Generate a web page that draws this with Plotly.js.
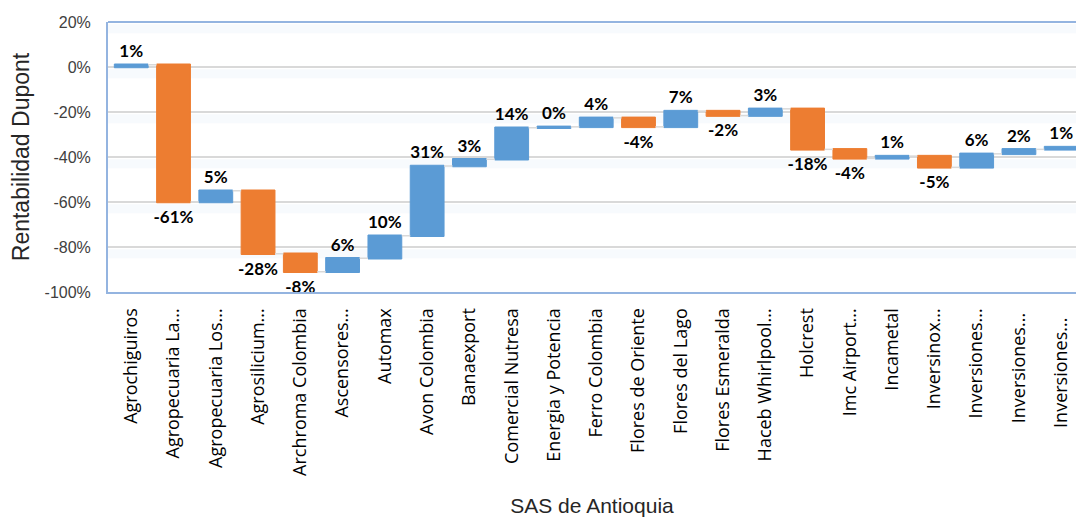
<!DOCTYPE html>
<html lang="es">
<head>
  <meta charset="UTF-8">
  <title>Rentabilidad Dupont - SAS de Antioquia</title>
  <script src="https://cdn.plot.ly/plotly-3.0.1.min.js"></script>
  <style>
    body { margin: 0; background: #ffffff; }
    #chart { width: 1076px; height: 517px; }
  </style>
</head>
<body>
  <div id="chart"></div>

  <script>
    // Empresas (etiquetas tal como aparecen, recortadas)
    const companies = [
      'Agrochiguiros', 'Agropecuaria La...', 'Agropecuaria Los...', 'Agrosilicium...',
      'Archroma Colombia', 'Ascensores...', 'Automax', 'Avon Colombia',
      'Banaexport', 'Comercial Nutresa', 'Energia y Potencia', 'Ferro Colombia',
      'Flores de Oriente', 'Flores del Lago', 'Flores Esmeralda', 'Haceb Whirlpool...',
      'Holcrest', 'Imc Airport...', 'Incametal', 'Inversinox...',
      'Inversiones...', 'Inversiones... ', 'Inversiones...  '
    ];

    // Variacion de la rentabilidad (%)
    const changes = [1, -61, 5, -28, -8, 6, 10, 31, 3, 14, 0.4, 4, -4, 7, -2, 3, -18, -4, 1, -5, 6, 2, 1];

    const yTicks = [20, 0, -20, -40, -60, -80, -100];

    const blue = '#5B9BD5';
    const orange = '#ED7D31';
    const frame = '#94B4E0';

    // soft band under each gridline, like the Excel style
    const bands = yTicks.map(v => ({
      type: 'rect', xref: 'paper', yref: 'y', layer: 'below',
      x0: 0, x1: 1, y0: v - 1, y1: v - 5,
      fillcolor: 'rgba(222,235,247,0.25)', line: { width: 0 }
    }));

    const topLine = {
      type: 'line', xref: 'paper', yref: 'paper', layer: 'above',
      x0: 0, x1: 1, y0: 1, y1: 1,
      line: { color: frame, width: 2 }
    };

    const trace = {
      type: 'waterfall',
      x: companies,
      y: changes,
      measure: changes.map(() => 'relative'),
      text: changes.map(v => Math.round(v) + '%'),
      textposition: 'outside',
      constraintext: 'none',
      cliponaxis: false,
      textfont: { family: 'Lato, sans-serif', size: 17, weight: 'bold', color: '#000000' },
      increasing: { marker: { color: blue, line: { color: blue, width: 1 } } },
      decreasing: { marker: { color: orange, line: { color: orange, width: 1 } } },
      connector: { mode: 'between', line: { color: '#D9D9D9', width: 1.5 } },
      hoverinfo: 'x+y'
    };

    const layout = {
      width: 1076,
      height: 517,
      margin: { l: 108, r: 0, t: 22, b: 225 },
      paper_bgcolor: '#ffffff',
      plot_bgcolor: '#ffffff',
      showlegend: false,
      bargap: 0.31,
      shapes: bands.concat([topLine]),
      xaxis: {
        type: 'category',
        range: [-0.55, 22.35],
        tickangle: -90,
        tickfont: { family: '"Open Sans", sans-serif', size: 18, color: '#000000' },
        ticklabelstandoff: 7,
        showline: true,
        linecolor: frame,
        linewidth: 2,
        showgrid: false,
        title: {
          text: 'SAS de Antioquia',
          font: { family: 'Liberation Sans, Arial, sans-serif', size: 21, color: '#262626' },
          standoff: 36
        }
      },
      yaxis: {
        range: [-100, 20],
        tickvals: yTicks,
        ticktext: yTicks.map(v => v + '%'),
        tickfont: { family: 'Liberation Sans, Arial, sans-serif', size: 16, color: '#404040' },
        ticklabelstandoff: 12,
        showline: true,
        linecolor: frame,
        linewidth: 2,
        gridcolor: '#D9D9D9',
        gridwidth: 1.5,
        zeroline: false,
        title: {
          text: 'Rentabilidad Dupont',
          font: { family: 'Liberation Sans, Arial, sans-serif', size: 23, color: '#262626' },
          standoff: 8
        }
      }
    };

    Plotly.newPlot('chart', [trace], layout, { displayModeBar: false, staticPlot: true });
  </script>
</body>
</html>
